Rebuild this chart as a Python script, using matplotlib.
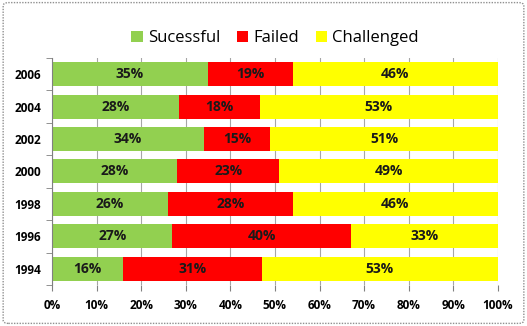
import matplotlib.pyplot as plt
import numpy as np
from matplotlib.patches import FancyBboxPatch

years = ['1994', '1996', '1998', '2000', '2002', '2004', '2006']
successful = [16, 27, 26, 28, 34, 28.4, 35]
failed = [31, 40, 28, 23, 15, 18.2, 19]
challenged = [53, 33, 46, 49, 51, 53.4, 46]

plt.rcParams['font.family'] = ['Open Sans', 'DejaVu Sans']

fig = plt.figure(figsize=(5.27, 3.26), dpi=100)
ax = fig.add_axes([0.0987, 0.126, 0.846, 0.696])

# rounded frame around the whole chart
frame = FancyBboxPatch((0.006, 0.008), 0.988, 0.984, boxstyle='round,pad=0,rounding_size=0.01',
                       transform=fig.transFigure, fill=False, edgecolor='#909090',
                       linewidth=1.0, linestyle=(0, (1, 1)))
fig.patches.append(frame)

y = np.arange(len(years))
h = 0.74
left2 = [a + b for a, b in zip(successful, failed)]
ax.barh(y, successful, height=h, color='#92D050', label='Sucessful', zorder=2)
ax.barh(y, failed, left=successful, height=h, color='#FF0000', label='Failed', zorder=2)
ax.barh(y, challenged, left=left2, height=h, color='#FFFF00', label='Challenged', zorder=2)

for i in range(len(years)):
    segs = [(0, successful[i]), (successful[i], failed[i]), (left2[i], challenged[i])]
    for start, w in segs:
        ax.text(start + w / 2, y[i], f'{w:.0f}%', ha='center', va='center',
                fontsize=10, fontweight='bold', color='#1a1a1a', zorder=3)

ax.set_xlim(0, 100)
ax.set_ylim(-0.5, len(years) - 0.5)
ax.set_xticks(np.arange(0, 101, 10))
ax.set_xticklabels([f'{v}%' for v in range(0, 101, 10)], fontsize=8.5, fontweight='bold')
ax.set_yticks(y)
ax.set_yticklabels(years, fontsize=8.5, fontweight='bold')
ax.set_yticks(np.arange(-0.5, len(years)), minor=True)
ax.tick_params(axis='y', which='major', length=0, pad=8)
ax.tick_params(axis='y', which='minor', length=4, color='#808080', direction='out')
ax.tick_params(axis='x', length=4, color='#808080', direction='out', pad=6)
ax.grid(axis='x', color='#A6A6A6', linewidth=0.8, zorder=0)
ax.set_axisbelow(True)
for side in ['top', 'right', 'bottom']:
    ax.spines[side].set_visible(False)
ax.spines['left'].set_color('#808080')

ax.legend(loc='lower center', bbox_to_anchor=(0.5, 1.0), ncol=3, frameon=False,
          fontsize=12, handlelength=0.7, handleheight=0.7, handletextpad=0.3,
          columnspacing=1.0, borderaxespad=0.3)

fig.savefig('out.png', dpi=100)
